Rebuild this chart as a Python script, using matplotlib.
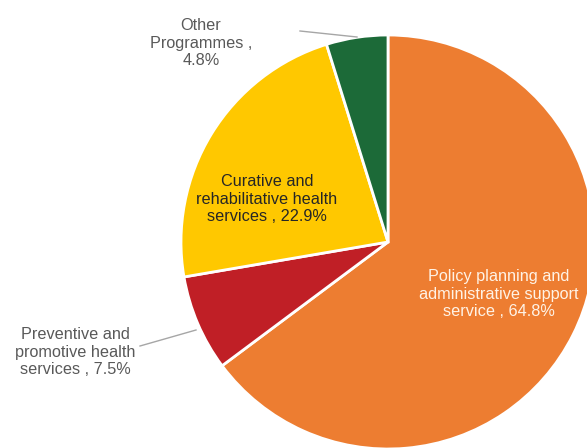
import matplotlib.pyplot as plt

labels = ['Policy planning and\nadministrative support\nservice , 64.8%',
          'Preventive and\npromotive health\nservices , 7.5%',
          'Curative and\nrehabilitative health\nservices , 22.9%',
          'Other\nProgrammes ,\n4.8%']
shares = [64.8, 7.5, 22.9, 4.8]
colors = ['#ED7D31', '#C01F26', '#FFC800', '#1C6A38']

W, H = 587, 448
fig = plt.figure(figsize=(W / 100, H / 100), dpi=100)
ax = fig.add_axes([0, 0, 1, 1])

# pixel coords from the top-left, flipped to axis coords
def px(x, y):
    return x, H - y

cx, cy = px(388, 242)
ax.pie(shares, colors=colors, startangle=90, counterclock=False,
       center=(cx, cy), radius=207, frame=True,
       wedgeprops=dict(edgecolor='white', linewidth=2))
ax.set_xlim(0, W)
ax.set_ylim(0, H)
ax.set_aspect('equal')
ax.axis('off')

font = dict(family='Liberation Sans', fontsize=11.7, ha='center', va='center', linespacing=1.2)
ax.text(*px(499, 294), labels[0], color='#FFF3E6', **font)
ax.text(*px(267, 199), labels[2], color='#262626', **font)
ax.text(*px(201, 43), labels[3], color='#595959', **font)
ax.text(*px(75, 352), labels[1], color='#595959', **font)

for (x0, y0), (x1, y1) in [((300, 31), (357, 37)), ((140, 346), (196, 330))]:
    ax.plot([x0, x1], [H - y0, H - y1], color='#A6A6A6', lw=1)

fig.savefig('out.png', dpi=100)
